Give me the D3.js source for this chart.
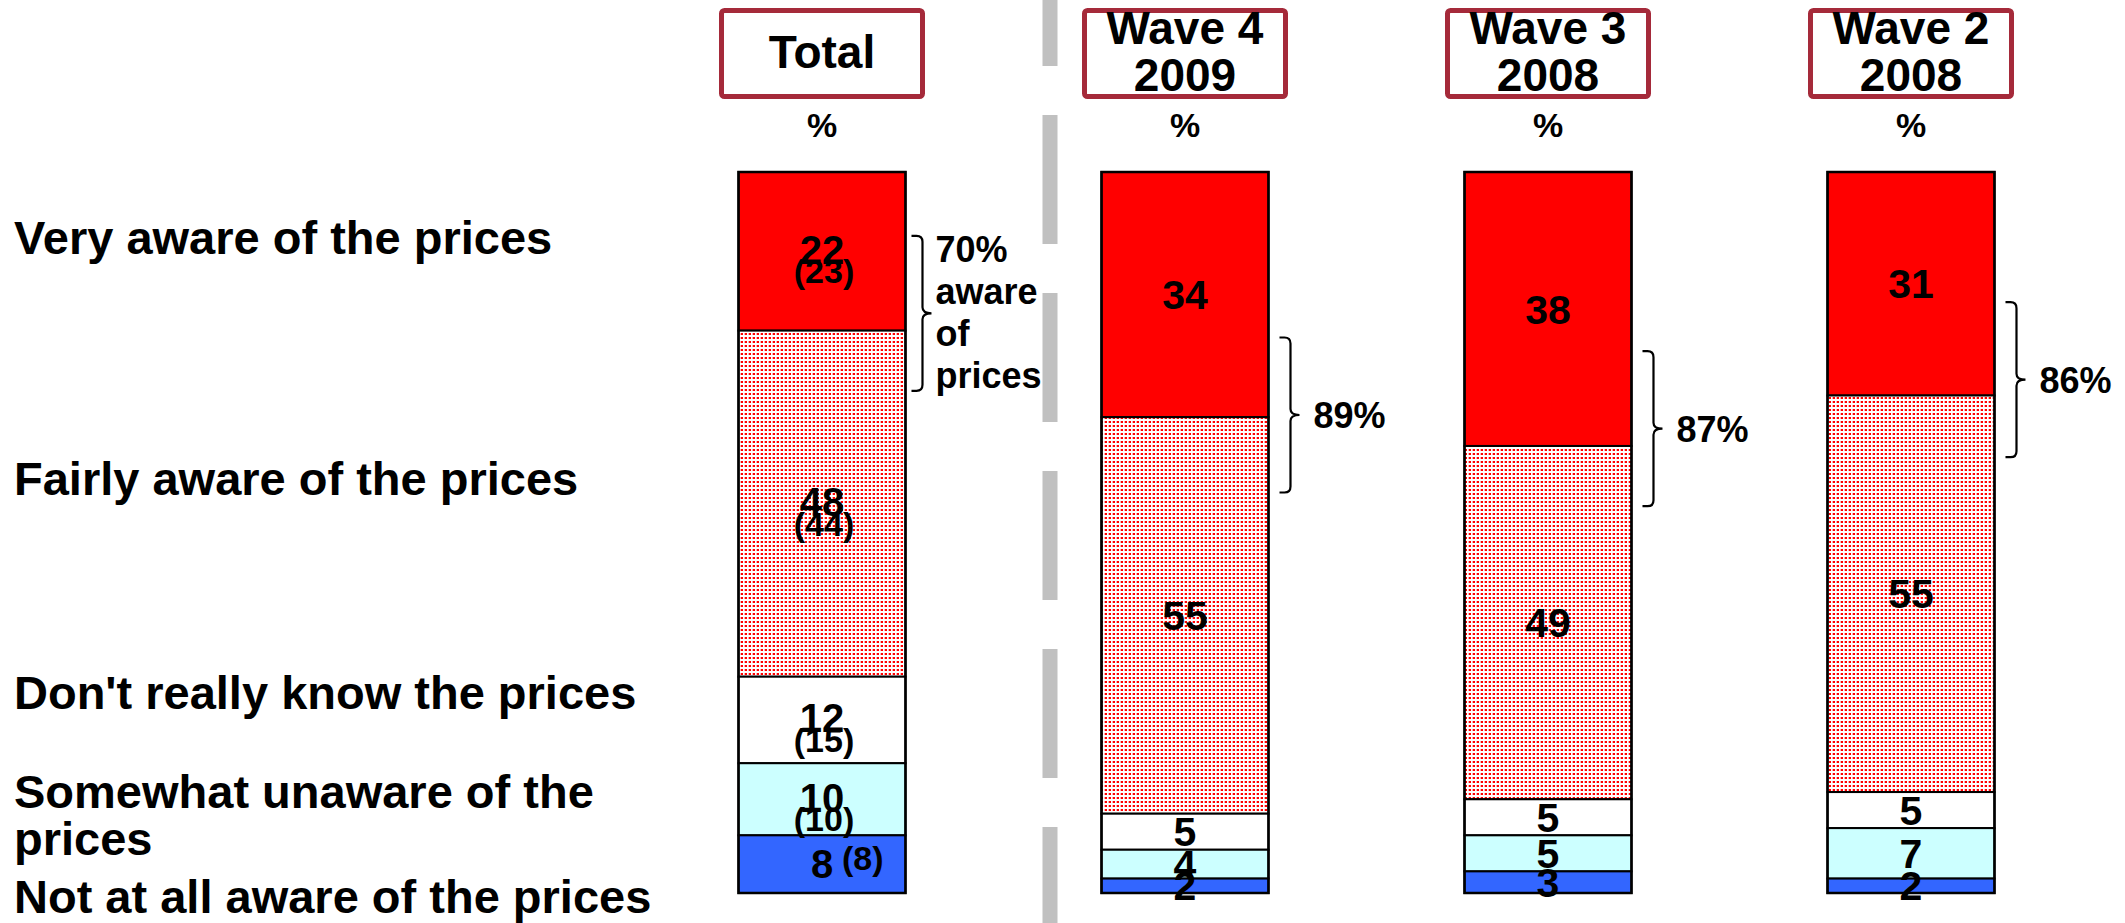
<!DOCTYPE html>
<html>
<head>
<meta charset="utf-8">
<script src="https://cdn.jsdelivr.net/npm/d3@7"></script>
<style>
  html, body { margin: 0; padding: 0; background: #ffffff; }
  svg { display: block; font-family: "Liberation Sans", Arial, Helvetica, sans-serif; font-weight: bold; }
</style>
</head>
<body>
<svg id="chart" width="2125" height="923"></svg>
<script>
// ---- data ----
const categories = [
  "Very aware of the prices",
  "Fairly aware of the prices",
  "Don't really know the prices",
  "Somewhat unaware of the prices",
  "Not at all aware of the prices"
];
const columnNames = ["Total", "Wave 4", "Wave 3", "Wave 2"];
const columnYears = ["", "2009", "2008", "2008"];

const totalValues    = [22, 48, 12, 10, 8];
const totalPrevious  = [23, 44, 15, 10, 8];
const wave4Values    = [34, 55, 5, 4, 2];
const wave3Values    = [38, 49, 5, 5, 3];
const wave2Values    = [31, 55, 5, 7, 2];

const columnValues = [totalValues, wave4Values, wave3Values, wave2Values];

// ---- layout ----
const W = 2125, H = 923;
const svg = d3.select("#chart");

const segFills = ["#FF0000", "url(#dots)", "#FFFFFF", "#CCFFFF", "#3366FF"];

const y = d3.scaleLinear().domain([0, 100]).range([172, 893]);
const x = d3.scaleBand()
  .domain(columnNames)
  .range([640.5, 2092.5])
  .paddingInner(0.54)
  .paddingOuter(0.27);

// dotted fill for the "fairly aware" segment
const defs = svg.append("defs");
const pat = defs.append("pattern")
  .attr("id", "dots")
  .attr("patternUnits", "userSpaceOnUse")
  .attr("width", 4).attr("height", 4);
pat.append("rect").attr("width", 4).attr("height", 4).attr("fill", "#ffffff");
pat.append("rect").attr("x", 1).attr("y", 1).attr("width", 2).attr("height", 2).attr("fill", "#FF0000");
pat.append("rect").attr("x", 0).attr("y", 1).attr("width", 1).attr("height", 2).attr("fill", "#FFB0B0");

// dashed grey separator between the total and the waves
svg.append("line")
  .attr("x1", 1050).attr("x2", 1050)
  .attr("y1", -63).attr("y2", H)
  .attr("stroke", "#C0C0C0")
  .attr("stroke-width", 15)
  .attr("stroke-dasharray", "129,49");

// category labels on the left
const labelLines = [
  [{ t: categories[0], y: 254 }],
  [{ t: categories[1], y: 495 }],
  [{ t: categories[2], y: 709 }],
  [{ t: "Somewhat unaware of the", y: 808 }, { t: "prices", y: 855 }],
  [{ t: categories[4], y: 913 }]
];
labelLines.forEach(lines => {
  lines.forEach(l => {
    svg.append("text")
      .attr("x", 14).attr("y", l.y)
      .attr("font-size", 47)
      .attr("fill", "#000")
      .text(l.t);
  });
});

// column headers
columnNames.forEach((name, i) => {
  const cx = x(name) + x.bandwidth() / 2;
  svg.append("rect")
    .attr("x", cx - 100.5).attr("y", 10.5)
    .attr("width", 201).attr("height", 86)
    .attr("rx", 3)
    .attr("fill", "#ffffff")
    .attr("stroke", "#A52A3A")
    .attr("stroke-width", 5);
  if (columnYears[i]) {
    svg.append("text").attr("x", cx).attr("y", 44)
      .attr("text-anchor", "middle").attr("font-size", 46).text(name);
    svg.append("text").attr("x", cx).attr("y", 91)
      .attr("text-anchor", "middle").attr("font-size", 46).text(columnYears[i]);
  } else {
    svg.append("text").attr("x", cx).attr("y", 68)
      .attr("text-anchor", "middle").attr("font-size", 46).text(name);
  }
  svg.append("text").attr("x", cx).attr("y", 137)
    .attr("text-anchor", "middle").attr("font-size", 34).text("%");
});

// stacked bars
const stackCols = columnNames.map((name, i) => {
  let acc = 0;
  return columnValues[i].map((v, k) => {
    const seg = { col: name, colIndex: i, k, v, y0: acc, y1: acc + v };
    acc += v;
    return seg;
  });
});

stackCols.forEach(segs => {
  const g = svg.append("g");
  g.selectAll("rect")
    .data(segs)
    .join("rect")
    .attr("x", d => x(d.col))
    .attr("y", d => y(d.y0))
    .attr("width", x.bandwidth())
    .attr("height", d => y(d.y1) - y(d.y0))
    .attr("fill", d => segFills[d.k])
    .attr("stroke", "#000")
    .attr("stroke-width", 2);
  // outer frame
  g.append("rect")
    .attr("x", x(segs[0].col))
    .attr("y", y(0))
    .attr("width", x.bandwidth())
    .attr("height", y(100) - y(0))
    .attr("fill", "none")
    .attr("stroke", "#000")
    .attr("stroke-width", 2.5);
});

// value labels
stackCols.forEach(segs => {
  segs.forEach(d => {
    const cx = x(d.col) + x.bandwidth() / 2;
    const mid = (y(d.y0) + y(d.y1)) / 2;
    if (d.colIndex === 0) {
      const prev = totalPrevious[d.k];
      const h = y(d.y1) - y(d.y0);
      if (h < 62) {
        // short segment: current and previous side by side
        svg.append("text").attr("x", cx).attr("y", mid + 0.358 * 40)
          .attr("text-anchor", "middle").attr("font-size", 40).text(d.v);
        svg.append("text").attr("x", cx + 20).attr("y", mid - 6 + 0.358 * 34)
          .attr("text-anchor", "start").attr("font-size", 34).text("(" + prev + ")");
      } else {
        svg.append("text").attr("x", cx).attr("y", mid - 2 + 0.358 * 40)
          .attr("text-anchor", "middle").attr("font-size", 40).text(d.v);
        svg.append("text").attr("x", cx + 2).attr("y", mid + 20 + 0.358 * 34)
          .attr("text-anchor", "middle").attr("font-size", 34).text("(" + prev + ")");
      }
    } else {
      svg.append("text").attr("x", cx).attr("y", mid + 0.358 * 41)
        .attr("text-anchor", "middle").attr("font-size", 41).text(d.v);
    }
  });
});

// curly brackets summing "very" + "fairly" aware
const bracketMid = [19.6, 33.7, 35.6, 28.8];   // bracket centre on the % scale
const bracketHalf = 77.5;                       // half height in px

function bracePath(x0, yt, ym, yb) {
  const xv = x0 + 11, xt = x0 + 20, r = 6;
  return [
    `M${x0},${yt}`,
    `L${xv - r},${yt}`,
    `Q${xv},${yt} ${xv},${yt + r}`,
    `L${xv},${ym - r}`,
    `Q${xv},${ym} ${xt},${ym}`,
    `Q${xv},${ym} ${xv},${ym + r}`,
    `L${xv},${yb - r}`,
    `Q${xv},${yb} ${xv - r},${yb}`,
    `L${x0},${yb}`
  ].join(" ");
}

columnNames.forEach((name, i) => {
  const vals = columnValues[i];
  const aware = vals[0] + vals[1];
  const x0 = x(name) + x.bandwidth() + (i === 0 ? 6 : 11);
  const ym = y(bracketMid[i]);
  const yt = ym - bracketHalf, yb = ym + bracketHalf;
  svg.append("path")
    .attr("d", bracePath(x0, yt, ym, yb))
    .attr("fill", "none")
    .attr("stroke", "#000")
    .attr("stroke-width", 2.2);
  if (i === 0) {
    const lines = [aware + "%", "aware", "of", "prices"];
    lines.forEach((t, j) => {
      svg.append("text").attr("x", x0 + 24).attr("y", yt + 26 + j * 42)
        .attr("font-size", 36).text(t);
    });
  } else {
    svg.append("text").attr("x", x0 + 34).attr("y", ym + 13)
      .attr("font-size", 36).text(aware + "%");
  }
});
</script>
</body>
</html>
